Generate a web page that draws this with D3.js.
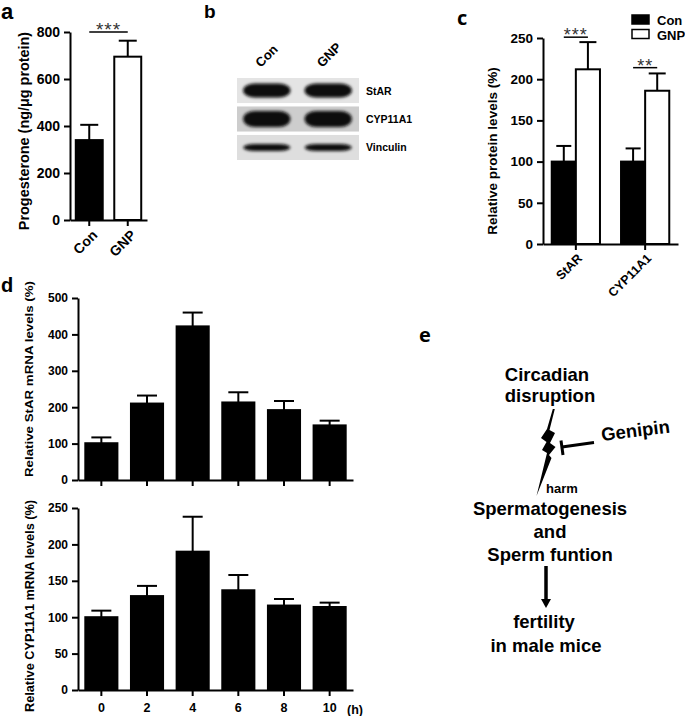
<!DOCTYPE html>
<html>
<head>
<meta charset="utf-8">
<script src="https://cdn.jsdelivr.net/npm/d3@7"></script>
<style>
body { margin: 0; background: #fff; }
svg { display: block; font-family: "Liberation Sans", Arial, Helvetica, sans-serif; font-weight: bold; }
.axis path, .axis line { stroke: #000; stroke-width: 2; }
.axis text { fill: #000; }
</style>
</head>
<body>
<svg id="fig" width="685" height="716"></svg>
<script>
// ---- data ----
var aGroups = ["Con", "GNP"];
var aMeans = [340, 695];
var aErrs = [65, 68];
var aTicks = [0, 200, 400, 600, 800];

var blotLanes = ["Con", "GNP"];
var blotProteins = ["StAR", "CYP11A1", "Vinculin"];

var cProteins = ["StAR", "CYP11A1"];
var cSeries = ["Con", "GNP"];
var cCon = [100, 100];
var cConErr = [19, 16];
var cGnp = [212, 186];
var cGnpErr = [33, 21];
var cSigY = [251, 214];
var cSigText = ["***", "**"];
var cTicks = [0, 50, 100, 150, 200, 250];

var dHours = ["0", "2", "4", "6", "8", "10"];
var dStar = [101, 210, 422, 213, 192, 150];
var dStarErr = [16, 22, 38, 28, 25, 13];
var dStarTicks = [0, 100, 200, 300, 400, 500];
var dCyp = [100, 129, 190, 137, 116, 114];
var dCypErr = [9, 14, 48, 21, 9, 6];
var dCypTicks = [0, 50, 100, 150, 200, 250];

var svg = d3.select("#fig");
svg.append("rect").attr("width", 685).attr("height", 716).attr("fill", "#fff");

function panelLetter(t, x, y, size, family) {
	svg.append("text").attr("x", x).attr("y", y).attr("font-size", size)
		.attr("font-family", family || null).text(t);
}

function yAxis(y, ticks, x0, fs) {
	svg.append("g").attr("class", "axis")
		.attr("transform", "translate(" + x0 + ",0)")
		.call(d3.axisLeft(y).tickValues(ticks).tickFormat(d3.format("d")).tickSize(6).tickSizeOuter(0).tickPadding(4))
		.attr("font-family", null).attr("font-size", fs);
}

function xAxis(x, y0, labels, fs) {
	var g = svg.append("g").attr("class", "axis")
		.attr("transform", "translate(0," + y0 + ")")
		.call(d3.axisBottom(x).tickSize(6).tickSizeOuter(0).tickPadding(7))
		.attr("font-family", null).attr("font-size", fs);
	if (!labels) g.selectAll(".tick text").remove();
	return g;
}

function yLabel(t, x, cy, fs, len) {
	var el = svg.append("text").attr("transform", "translate(" + x + "," + cy + ") rotate(-90)")
		.attr("text-anchor", "middle").attr("font-size", fs).text(t);
	if (len) el.attr("textLength", len).attr("lengthAdjust", "spacingAndGlyphs");
}

// draws bars + error bars for one series
function bars(xpos, bw, y, vals, errs, fill, cap) {
	var rows = d3.zip(xpos, vals, errs);
	var base = y(0);
	svg.append("g").selectAll("rect").data(rows).enter().append("rect")
		.attr("x", function(d) { return d[0]; })
		.attr("y", function(d) { return y(d[1]); })
		.attr("width", bw)
		.attr("height", function(d) { return base - y(d[1]); })
		.attr("fill", fill).attr("stroke", "#000").attr("stroke-width", 2);
	var eg = svg.append("g").attr("stroke", "#000").attr("stroke-width", 2);
	eg.selectAll(".v").data(rows).enter().append("line")
		.attr("x1", function(d) { return d[0] + bw / 2; })
		.attr("x2", function(d) { return d[0] + bw / 2; })
		.attr("y1", function(d) { return y(d[1]); })
		.attr("y2", function(d) { return y(d[1] + d[2]); });
	eg.selectAll(".c").data(rows).enter().append("line")
		.attr("x1", function(d) { return d[0] + bw / 2 - cap / 2; })
		.attr("x2", function(d) { return d[0] + bw / 2 + cap / 2; })
		.attr("y1", function(d) { return y(d[1] + d[2]); })
		.attr("y2", function(d) { return y(d[1] + d[2]); });
}

function sig(x1, x2, yy, t, fs) {
	svg.append("line").attr("x1", x1).attr("x2", x2).attr("y1", yy).attr("y2", yy)
		.attr("stroke", "#000").attr("stroke-width", 1.5);
	svg.append("text").attr("x", (x1 + x2) / 2).attr("y", yy + 4).attr("text-anchor", "middle")
		.attr("font-size", fs).attr("font-weight", "normal").attr("fill", "#333")
		.attr("letter-spacing", 1).text(t);
}

// ---------------- panel a ----------------
panelLetter("a", 1, 19, 22);
var ay = d3.scaleLinear().domain([0, 800]).range([220, 32]);
var ax = d3.scaleBand().domain(aGroups).range([70, 147]).paddingInner(0.3).paddingOuter(0.15);
bars([ax("Con")], ax.bandwidth(), ay, aMeans.slice(0, 1), aErrs.slice(0, 1), "#000", 18);
bars([ax("GNP")], ax.bandwidth(), ay, aMeans.slice(1), aErrs.slice(1), "#fff", 18);
yAxis(ay, aTicks, 70, 14);
var axg = xAxis(ax, 220, true, 14);
axg.selectAll(".tick text").attr("text-anchor", "end").attr("dy", null)
	.attr("transform", "translate(9,16) rotate(-45)").attr("y", 0).attr("x", 0);
yLabel("Progesterone (ng/\u03bcg protein)", 29, 131, 14.4);
sig(ax("Con") + ax.bandwidth() / 2, ax("GNP") + ax.bandwidth() / 2, ay(800), "***", 19);

// ---------------- panel b (western blot) ----------------
panelLetter("b", 204, 18, 19);
var lane = d3.scaleBand().domain(blotLanes).range([237, 358]).paddingInner(0.23).paddingOuter(0.1);
var row = d3.scaleBand().domain(blotProteins).range([78, 160]).paddingInner(0.12);
var boxFill = { "StAR": "#e4e4e4", "CYP11A1": "#cdcdcd", "Vinculin": "#dedede" };
var bandH = { "StAR": 14, "CYP11A1": 16, "Vinculin": 7 };
var defs = svg.append("defs");
defs.append("filter").attr("id", "blur").attr("x", "-20%").attr("y", "-60%").attr("width", "140%").attr("height", "220%")
	.append("feGaussianBlur").attr("stdDeviation", 1.6);
svg.append("g").selectAll("rect").data(blotProteins).enter().append("rect")
	.attr("x", 237).attr("width", 122)
	.attr("y", function(p) { return row(p); }).attr("height", row.bandwidth())
	.attr("fill", function(p) { return boxFill[p]; });
blotProteins.forEach(function(p) {
	svg.append("g").attr("filter", "url(#blur)").selectAll("rect").data(blotLanes).enter().append("rect")
		.attr("x", function(l) { return lane(l); })
		.attr("width", lane.bandwidth())
		.attr("y", row(p) + row.bandwidth() / 2 - bandH[p] / 2)
		.attr("height", bandH[p])
		.attr("rx", lane.bandwidth() / 4).attr("ry", bandH[p] / 2)
		.attr("fill", "#0c0c0c");
	svg.append("text").attr("x", 366).attr("y", row(p) + row.bandwidth() / 2 + 4)
		.attr("font-size", 10.5).text(p);
});
svg.append("g").selectAll("text").data(blotLanes).enter().append("text")
	.attr("transform", function(l) { return "translate(" + (lane(l) + lane.bandwidth() / 2 - 6) + ",68) rotate(-45)"; })
	.attr("font-size", 13).text(function(l) { return l; });

// ---------------- panel c ----------------
panelLetter("c", 457, 25, 20, "'Open Sans', sans-serif");
var cy = d3.scaleLinear().domain([0, 250]).range([244, 38]);
var cx = d3.scaleBand().domain(cProteins).range([543, 678]).paddingInner(0.304).paddingOuter(0.126);
var cs = d3.scaleBand().domain(cSeries).range([0, cx.bandwidth()]);
bars(cProteins.map(function(p) { return cx(p) + cs("Con"); }), cs.bandwidth(), cy, cCon, cConErr, "#000", 15);
bars(cProteins.map(function(p) { return cx(p) + cs("GNP"); }), cs.bandwidth(), cy, cGnp, cGnpErr, "#fff", 17);
yAxis(cy, cTicks, 543, 13.5);
var cxg = xAxis(cx, 244, true, 12.5);
cxg.selectAll(".tick text").attr("text-anchor", "end").attr("dy", null)
	.attr("transform", "translate(7,15) rotate(-45)").attr("y", 0).attr("x", 0);
yLabel("Relative protein levels (%)", 497, 151, 13.5);
cProteins.forEach(function(p, i) {
	sig(cx(p) + cs("Con") + cs.bandwidth() / 2, cx(p) + cs("GNP") + cs.bandwidth() / 2, cy(cSigY[i]), cSigText[i], 18);
});
// legend
var leg = svg.append("g").selectAll("g").data(cSeries).enter().append("g")
	.attr("transform", function(d, i) { return "translate(632," + (15 + i * 14.5) + ")"; });
leg.append("rect").attr("width", 17).attr("height", 9)
	.attr("fill", function(d, i) { return i === 0 ? "#000" : "#fff"; })
	.attr("stroke", "#000").attr("stroke-width", 1.5);
leg.append("text").attr("x", 25).attr("y", 10).attr("font-size", 13).text(function(d) { return d; });

// ---------------- panel d ----------------
panelLetter("d", 1, 292, 20);
var dx = d3.scaleBand().domain(dHours).range([78, 353]).paddingInner(0.297).paddingOuter(0.16);
var dy1 = d3.scaleLinear().domain([0, 500]).range([480, 298]);
var dy2 = d3.scaleLinear().domain([0, 250]).range([690, 508]);
bars(dHours.map(function(h) { return dx(h); }), dx.bandwidth(), dy1, dStar, dStarErr, "#000", 20);
yAxis(dy1, dStarTicks, 78, 12);
xAxis(dx, 480, false, 12);
yLabel("Relative StAR mRNA levels (%)", 33, 379, 11.5, 196);
bars(dHours.map(function(h) { return dx(h); }), dx.bandwidth(), dy2, dCyp, dCypErr, "#000", 20);
yAxis(dy2, dCypTicks, 78, 12);
xAxis(dx, 690, true, 12.5);
yLabel("Relative CYP11A1 mRNA levels (%)", 34, 606, 12, 212);
svg.append("text").attr("x", 347).attr("y", 714).attr("font-size", 12.5).text("(h)");

// ---------------- panel e (schematic) ----------------
panelLetter("e", 419, 342, 20, "'Open Sans', sans-serif");
function centered(t, x, y, fs) {
	svg.append("text").attr("x", x).attr("y", y).attr("text-anchor", "middle").attr("font-size", fs).text(t);
}
centered("Circadian", 547, 381, 18.5);
centered("disruption", 550, 402, 18.5);
// lightning bolt
var bolt = [[552.8, 409], [547, 429], [541, 438], [546.5, 442], [542, 450], [547, 453], [536.5, 496],
	[551.5, 458], [549, 455], [555.5, 447], [550, 443], [555, 433], [549.5, 430], [554.8, 409]];
svg.append("path").attr("d", d3.line()(bolt) + "Z").attr("fill", "#000");
// inhibition bar
svg.append("line").attr("x1", 562).attr("y1", 447).attr("x2", 594).attr("y2", 442.5)
	.attr("stroke", "#000").attr("stroke-width", 3);
svg.append("line").attr("x1", 561).attr("y1", 440.5).attr("x2", 563).attr("y2", 455)
	.attr("stroke", "#000").attr("stroke-width", 3);
svg.append("text").attr("transform", "translate(602,441) rotate(-7)").attr("font-size", 18.5).text("Genipin");
svg.append("text").attr("x", 546).attr("y", 493).attr("font-size", 13).text("harm");
centered("Spermatogenesis", 550, 515, 18.5);
centered("and", 550, 538, 18.5);
centered("Sperm funtion", 550, 561, 18.5);
svg.append("line").attr("x1", 546).attr("y1", 566).attr("x2", 546).attr("y2", 600)
	.attr("stroke", "#000").attr("stroke-width", 3.5);
svg.append("path").attr("d", d3.line()([[541, 599], [551, 599], [546, 608]]) + "Z").attr("fill", "#000");
centered("fertility", 544, 628, 18.5);
centered("in male mice", 546, 652, 18.5);
</script>
</body>
</html>
